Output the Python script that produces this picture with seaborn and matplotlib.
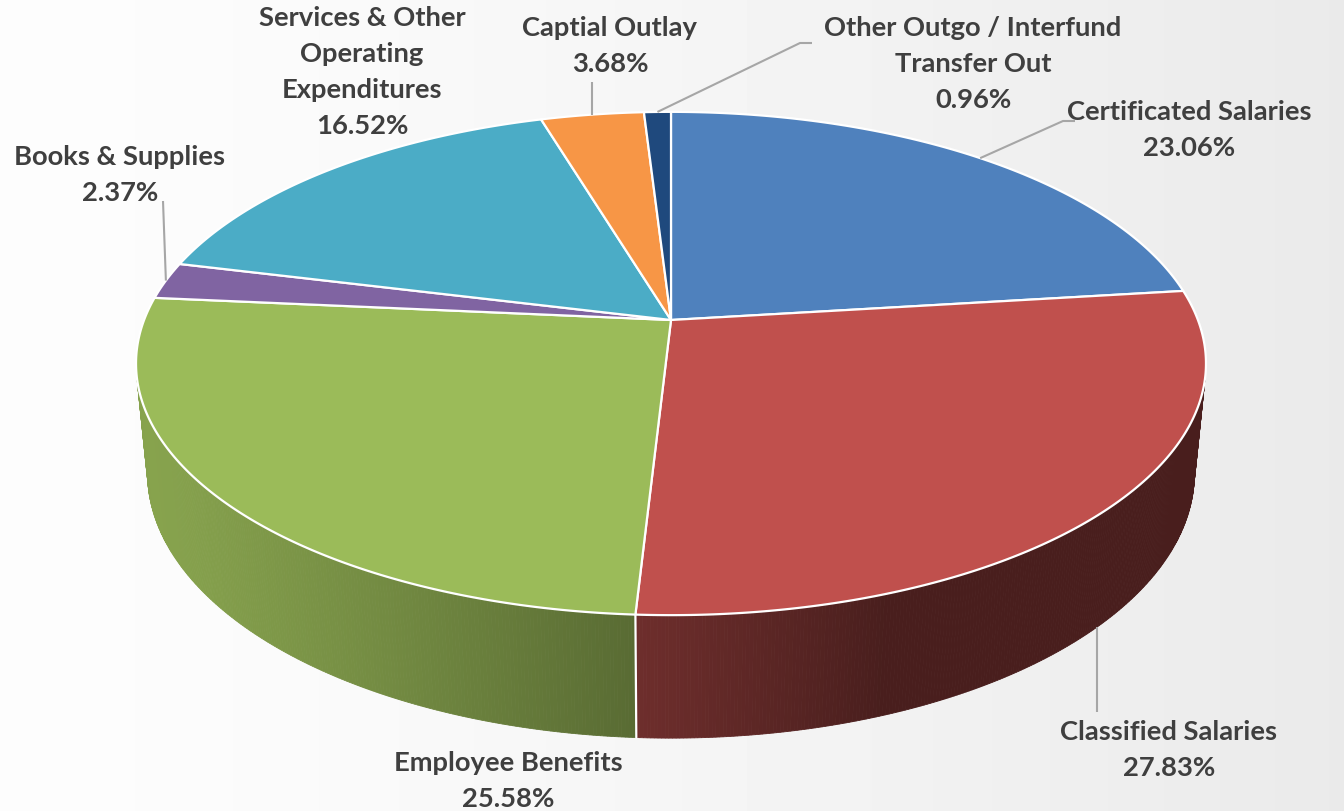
import numpy as np
import matplotlib
matplotlib.use("Agg")
import matplotlib.pyplot as plt
import seaborn as sns

# ---- data -------------------------------------------------------------
categories = [
    "Certificated Salaries",
    "Classified Salaries",
    "Employee Benefits",
    "Books & Supplies",
    "Services & Other Operating Expenditures",
    "Captial Outlay",
    "Other Outgo / Interfund Transfer Out",
]
shares = [23.06, 27.83, 25.58, 2.37, 16.52, 3.68, 0.96]
label_lines = [
    ["Certificated Salaries"],
    ["Classified Salaries"],
    ["Employee Benefits"],
    ["Books & Supplies"],
    ["Services & Other", "Operating", "Expenditures"],
    ["Captial Outlay"],
    ["Other Outgo / Interfund", "Transfer Out"],
]
palette = ["#4f81bd", "#c0504d", "#9bbb59", "#8064a2", "#4bacc6", "#f79646", "#1f497d"]

# ---- style ------------------------------------------------------------
sns.set_theme(style="white")
plt.rcParams["font.family"] = ["Lato", "DejaVu Sans"]
colors = sns.color_palette(palette)
TEXT_COLOR = "#3f3f3f"
LEADER_COLOR = "#a6a6a6"

W, H = 1344, 811
fig = plt.figure(figsize=(W / 100, H / 100), dpi=100)
ax = fig.add_axes([0, 0, 1, 1])
ax.set_xlim(0, W)
ax.set_ylim(H, 0)
ax.axis("off")

# soft left-to-right background shade
xs = np.linspace(0, 1, 400)
shade = 0.992 - 0.075 * xs ** 1.3
ax.imshow(np.tile(shade, (2, 1)), cmap="gray", vmin=0, vmax=1,
          extent=[0, W, H, 0], aspect="auto", interpolation="bilinear", zorder=0)

# ---- perspective camera for the 3D disc -------------------------------
CX, CY = 671.0, 320.0
FOCAL = 2701.0
DIST = 5.126
ELEV = np.radians(27.6)
THICK = 0.237


def project(phi, z=0.0):
    """Project a rim point (angle clockwise from 12 o'clock) to pixels."""
    x = np.sin(phi)
    y = np.cos(phi)
    depth = DIST + y * np.cos(ELEV) - z * np.sin(ELEV)
    up = y * np.sin(ELEV) + z * np.cos(ELEV)
    return CX + FOCAL * x / depth, CY - FOCAL * up / depth


def side_visible(phi):
    return -DIST * np.cos(ELEV) * np.cos(phi) - 1.0 > 0


def side_light(phi):
    return 0.38 + 0.49 * max(0.0, np.cos(phi - np.radians(250)))


fracs = np.array(shares) / np.sum(shares)
bounds = np.concatenate([[0.0], np.cumsum(fracs)]) * 2 * np.pi

# side walls, drawn as thin shaded strips
for i in range(len(shares)):
    a0, a1 = bounds[i], bounds[i + 1]
    n = max(2, int(np.degrees(a1 - a0) * 3))
    angs = np.linspace(a0, a1, n + 1)
    base = np.array(colors[i])
    for pa, pb in zip(angs[:-1], angs[1:]):
        mid = 0.5 * (pa + pb)
        if not side_visible(mid):
            continue
        xa, ya = project(pa)
        xb, yb = project(pb)
        xc, yc = project(pb, -THICK)
        xd, yd = project(pa, -THICK)
        col = np.clip(base * side_light(mid), 0, 1)
        ax.fill([xa, xb, xc, xd], [ya, yb, yc, yd], facecolor=col,
                edgecolor=col, linewidth=0.6, zorder=2)

# white seams where slices meet on the visible wall
for b in bounds:
    if side_visible(b):
        x0, y0 = project(b)
        x1, y1 = project(b, -THICK)
        ax.plot([x0, x1], [y0, y1], color="white", linewidth=1.6, zorder=3)

# top faces
for i in range(len(shares)):
    a0, a1 = bounds[i], bounds[i + 1]
    n = max(4, int(np.degrees(a1 - a0) * 2))
    angs = np.linspace(a0, a1, n + 1)
    px, py = project(angs)
    ax.fill(np.concatenate([[CX], px]), np.concatenate([[CY], py]),
            facecolor=colors[i], edgecolor="white", linewidth=1.6,
            joinstyle="round", zorder=4)

# ---- labels -----------------------------------------------------------
label_pos = [  # centre x, first line y
    (1189, 112), (1169, 732), (508, 763), (120, 157),
    (362, 18), (610, 28), (973, 28),
]
LINE_STEP = 36
FONT_SIZE = 19.7

for i, (lx, ly) in enumerate(label_pos):
    lines = label_lines[i] + [f"{shares[i]:.2f}%"]
    for k, txt in enumerate(lines):
        ax.text(lx, ly + k * LINE_STEP, txt, ha="center", va="center",
                fontsize=FONT_SIZE, fontweight="bold", color=TEXT_COLOR, zorder=6)

mids = 0.5 * (bounds[:-1] + bounds[1:])


def leader(points):
    px, py = zip(*points)
    ax.plot(px, py, color=LEADER_COLOR, linewidth=1.5, zorder=5,
            solid_capstyle="butt")


ax_, ay_ = project(mids[0])
leader([(ax_, ay_), (1063, 121), (1075, 121)])
ax_, ay_ = project(mids[1], -THICK)
leader([(ax_, ay_), (ax_, 712)])
ax_, ay_ = project(mids[3])
leader([(ax_, ay_), (163, 201)])
ax_, ay_ = project(mids[5])
leader([(ax_, ay_), (ax_, 82)])
ax_, ay_ = project(mids[6])
leader([(ax_, ay_), (800, 43), (812, 43)])

fig.savefig("out.png", dpi=100)
